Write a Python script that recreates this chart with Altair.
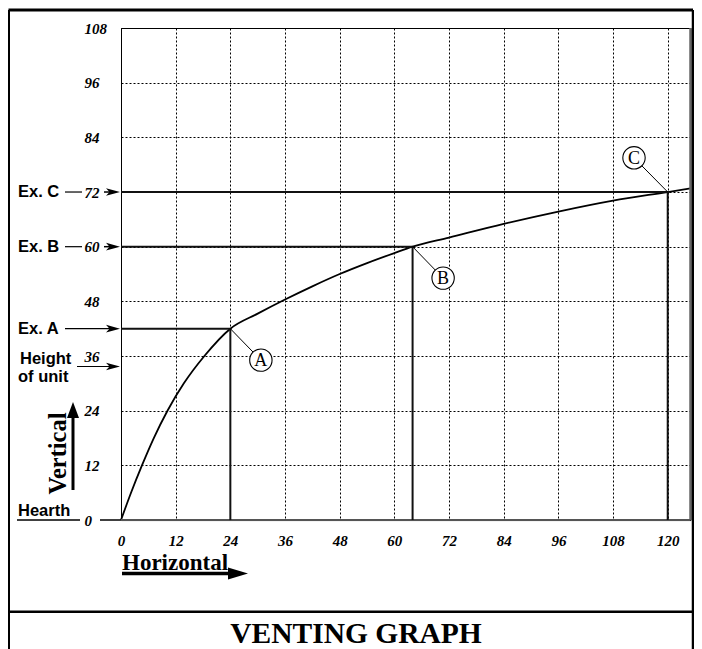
import altair as alt
import pandas as pd

# ---- data ----
curve_x = [0, 2.2, 4.6, 7.2, 10.2, 13.8, 18.3, 24, 30, 36, 42, 48, 54, 60, 64, 72, 84, 96, 108, 120, 125]
curve_y = [0, 6, 12, 18, 24, 30, 36, 42, 45.3, 48.4, 51.3, 54.0, 56.4, 58.6, 60, 62.0, 65.0, 67.7, 70.1, 72, 72.8]

examples = ["A", "B", "C"]
example_labels = ["Ex.  A", "Ex.  B", "Ex.  C"]
example_x = [24, 64, 120]
example_y = [42, 60, 72]
marker_x = [30.7, 70.7, 112.6]
marker_y = [35.1, 53.1, 79.5]

height_of_unit = 33.7

x_ticks = [0, 6, 12, 18, 24, 30, 36, 42, 48, 54, 60, 66, 72, 78, 84, 90, 96, 102, 108, 114, 120]
y_ticks = [0, 6, 12, 18, 24, 30, 36, 42, 48, 54, 60, 66, 72, 78, 84, 90, 96, 102, 108]
x_domain = [0, 125]
y_domain = [0, 108]

PX = 4.556
W, H = x_domain[1] * PX, y_domain[1] * PX

xs = alt.Scale(domain=x_domain, nice=False, zero=False)
ys = alt.Scale(domain=y_domain, nice=False, zero=False)

curve_df = pd.DataFrame({"x": curve_x, "y": curve_y})
ex_df = pd.DataFrame({
    "name": examples, "label": example_labels,
    "x": example_x, "y": example_y,
    "mx": marker_x, "my": marker_y,
    "x0": [0] * 3, "y0": [0] * 3,
})
unit_df = pd.DataFrame({"y": [height_of_unit]})

NUM_FONT = "Liberation Serif"
SANS = "Liberation Sans"

x_axis = alt.Axis(values=x_ticks, grid=True, ticks=False, domain=False, title=None,
                  labelExpr="datum.value % 12 == 0 ? datum.label : ''",
                  labelFont=NUM_FONT, labelFontSize=15, labelFontWeight="bold",
                  labelFontStyle="italic", labelColor="black", labelPadding=13,
                  gridColor="black", gridDash=[2, 2], gridWidth=1, gridOpacity=1, labelFlush=False)
y_axis = alt.Axis(values=y_ticks, grid=True, ticks=False, domain=False, title=None,
                  labelExpr="datum.value % 12 == 0 ? datum.label : ''",
                  labelFont=NUM_FONT, labelFontSize=15, labelFontWeight="bold",
                  labelFontStyle="italic", labelColor="black", labelPadding=37,
                  labelAlign="left", gridColor="black", gridDash=[2, 2], gridWidth=1,
                  gridOpacity=1, labelFlush=False)

curve = alt.Chart(curve_df).mark_line(color="black", strokeWidth=1.8, interpolate="monotone").encode(
    x=alt.X("x:Q", scale=xs, axis=x_axis),
    y=alt.Y("y:Q", scale=ys, axis=y_axis),
)

ex = alt.Chart(ex_df)
h_lines = ex.mark_rule(color="#111", strokeWidth=2).encode(
    x=alt.X("x0:Q", scale=xs), x2="x:Q", y=alt.Y("y:Q", scale=ys))
v_lines = ex.mark_rule(color="#111", strokeWidth=2).encode(
    x=alt.X("x:Q", scale=xs), y=alt.Y("y0:Q", scale=ys), y2="y:Q")
leaders = ex.mark_rule(color="black", strokeWidth=1).encode(
    x=alt.X("x:Q", scale=xs), y=alt.Y("y:Q", scale=ys), x2="mx:Q", y2="my:Q")
circles = ex.mark_point(shape="circle", filled=True, fill="white", stroke="black",
                        strokeWidth=1.1, size=500, opacity=1).encode(
    x=alt.X("mx:Q", scale=xs), y=alt.Y("my:Q", scale=ys))
letters = ex.mark_text(font=NUM_FONT, fontSize=18, color="black", baseline="middle", dy=1).encode(
    x=alt.X("mx:Q", scale=xs), y=alt.Y("my:Q", scale=ys), text="name:N")

edge_right = alt.Chart(pd.DataFrame({"x": [x_domain[1]], "y0": [0], "y1": [y_domain[1]]})).mark_rule(
    color="#666", strokeWidth=2.5).encode(x=alt.X("x:Q", scale=xs), y=alt.Y("y0:Q", scale=ys), y2="y1:Q")
edge_bottom = alt.Chart(pd.DataFrame({"y": [0], "x0": [0], "x1": [x_domain[1]]})).mark_rule(
    color="#555", strokeWidth=2).encode(y=alt.Y("y:Q", scale=ys), x=alt.X("x0:Q", scale=xs), x2="x1:Q")

# left-side example labels and arrows
ex_text = ex.mark_text(font=SANS, fontSize=16.5, fontWeight="bold", align="left",
                       baseline="middle", color="black").encode(
    x=alt.value(-103), y=alt.Y("y:Q", scale=ys), text="label:N")
bc = ex.transform_filter("datum.name != 'A'")
bc_dash = bc.mark_rule(color="black", strokeWidth=1.2).encode(
    x=alt.value(-56), x2=alt.value(-39), y=alt.Y("y:Q", scale=ys))
bc_arrow = bc.mark_rule(color="black", strokeWidth=1.5).encode(
    x=alt.value(-17), x2=alt.value(-6), y=alt.Y("y:Q", scale=ys))
a_arrow = ex.transform_filter("datum.name == 'A'").mark_rule(color="black", strokeWidth=1.2).encode(
    x=alt.value(-56), x2=alt.value(-6), y=alt.Y("y:Q", scale=ys))
ARROW = "M -1 -0.55 L 1 0 L -1 0.55 L -0.5 0 Z"
heads = ex.mark_point(shape=ARROW, filled=True, color="black", size=196, opacity=1).encode(
    x=alt.value(-8), y=alt.Y("y:Q", scale=ys))

unit = alt.Chart(unit_df)
unit_arrow = unit.mark_rule(color="black", strokeWidth=1.2).encode(
    x=alt.value(-44), x2=alt.value(-6), y=alt.Y("y:Q", scale=ys))
unit_head = unit.mark_point(shape=ARROW, filled=True, color="black", size=196, opacity=1).encode(
    x=alt.value(-8), y=alt.Y("y:Q", scale=ys))

# decorations in pixel space (relative to plot origin)
FR = W + 2.5  # right frame line
seg_df = pd.DataFrame({
    "x1": [-112.5, -112.5, FR, -112.5, -104, -21, -48, 1],
    "x2": [-112.5, FR, FR, FR, -41, 0, -48, 112],
    "y1": [-18, -18, -18, 583.7, 492, 492, 462, 545.5],
    "y2": [625, -18, 625, 583.7, 492, 492, 385, 545.5],
    "w": [3, 3, 2.5, 2.5, 1.5, 1.5, 3, 3.5],
})
segs = alt.Chart(seg_df).mark_rule(color="black").encode(
    x=alt.X("x1:Q", scale=None), x2="x2:Q",
    y=alt.Y("y1:Q", scale=None), y2="y2:Q",
    strokeWidth=alt.StrokeWidth("w:Q", scale=None),
)
h_head = alt.Chart(pd.DataFrame({"x": [117], "y": [545.5]})).mark_point(
    shape="M -1 -0.6 L 1 0 L -1 0.6 Z", filled=True, color="black", size=400, opacity=1).encode(
    x=alt.X("x:Q", scale=None), y=alt.Y("y:Q", scale=None))
v_head = alt.Chart(pd.DataFrame({"x": [-48], "y": [382]})).mark_point(
    shape="M -0.75 1 L 0 -1 L 0.75 1 Z", filled=True, color="black", size=256, opacity=1).encode(
    x=alt.X("x:Q", scale=None), y=alt.Y("y:Q", scale=None))

sans_df = pd.DataFrame({"t": ["Height", "of unit", "Hearth"], "x": [-101, -103, -103],
                        "y": [330.5, 348.5, 483]})
sans_text = alt.Chart(sans_df).mark_text(font=SANS, fontSize=16.5, fontWeight="bold", align="left",
                                         baseline="middle", color="black").encode(
    x=alt.X("x:Q", scale=None), y=alt.Y("y:Q", scale=None), text="t:N")

horiz = alt.Chart(pd.DataFrame({"t": ["Horizontal"], "x": [1], "y": [542]})).mark_text(
    font=NUM_FONT, fontSize=23, fontWeight="bold", align="left", baseline="alphabetic", color="black").encode(
    x=alt.X("x:Q", scale=None), y=alt.Y("y:Q", scale=None), text="t:N")
vert = alt.Chart(pd.DataFrame({"t": ["Vertical"], "x": [-62], "y": [425.5]})).mark_text(
    font=NUM_FONT, fontSize=24.5, fontWeight="bold", align="center", baseline="middle", angle=270,
    color="black").encode(
    x=alt.X("x:Q", scale=None), y=alt.Y("y:Q", scale=None), text="t:N")
title = alt.Chart(pd.DataFrame({"t": ["VENTING  GRAPH"], "x": [235], "y": [615]})).mark_text(
    font=NUM_FONT, fontSize=29.5, fontWeight="bold", align="center", baseline="alphabetic",
    color="black").encode(
    x=alt.X("x:Q", scale=None), y=alt.Y("y:Q", scale=None), text="t:N")

PAD_L, PAD_T = 113, 20
TOTAL_W, TOTAL_H = 686, 641

chart = alt.layer(
    curve, edge_right, edge_bottom, h_lines, v_lines, leaders, circles, letters,
    ex_text, bc_dash, bc_arrow, a_arrow, heads, unit_arrow, unit_head,
    segs, h_head, v_head, sans_text, horiz, vert, title,
).properties(
    width=W, height=H,
    autosize=alt.AutoSizeParams(type="none"),
    padding={"left": PAD_L, "top": PAD_T, "right": TOTAL_W - PAD_L - W, "bottom": TOTAL_H - PAD_T - H},
    background="white",
).configure_view(stroke="black", strokeWidth=1)

chart.save("out.html", embed_options={"renderer": "svg", "actions": False})
